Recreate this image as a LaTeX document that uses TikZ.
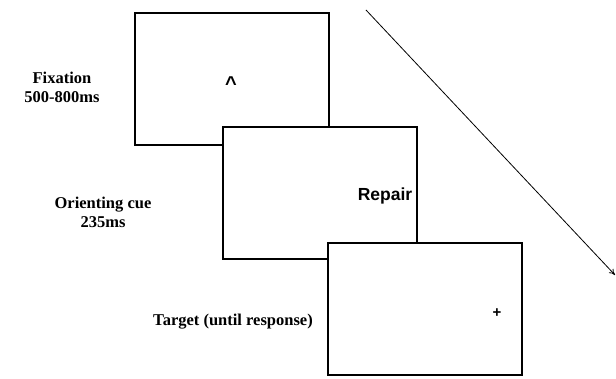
\documentclass[tikz,border=0pt]{standalone}
\usepackage{fontspec}
\setmainfont{Liberation Serif}
\setsansfont{Liberation Sans}
\usetikzlibrary{
    arrows.meta,
    positioning
}
\tikzset{
  screen/.style={
    draw=black,
    fill=white,
    line width=2pt,
    minimum width=194pt,
    minimum height=132pt,
    inner sep=0pt
  },
  phase/.style={
    font=\fontsize{16.5}{19}\selectfont\bfseries,
    align=center,
    inner sep=1pt
  },
  stim/.style={
    font=\fontsize{15}{17}\selectfont\sffamily\bfseries,
    inner sep=1pt
  }
}

\begin{document}
\begin{tikzpicture}[x=1pt,y=-1pt,>=Stealth]
    \useasboundingbox (0,0) rectangle (616,379);

    % 画面
    \node[screen,anchor=north west] (fix) at (134,12) {};
    \node[screen,anchor=north west] (cue) at (222,126) {};
    \node[screen,anchor=north west] (tgt) at (327,242) {};

    % 刺激
    \node[stim,font=\fontsize{20}{20}\selectfont\sffamily\bfseries] (caret) at (231,84) {\textasciicircum};
    \node[stim,font=\fontsize{17.5}{20}\selectfont\sffamily\bfseries] (word) at (385,196) {Repair};
    \node[stim] (plus) at (497,313) {+};

    % ラベル
    \node[phase] (fixlab) at (62,87) {Fixation\\500-800ms};
    \node[phase] (cuelab) at (103,212) {Orienting cue\\235ms};
    \node[phase] (tgtlab) at (233,322) {Target (until response)};

    % 時間の矢印
    \coordinate (tstart) at (366,10);
    \coordinate (tend) at (615,275);
    \draw[-{To[length=6pt,width=6pt]},line width=0.8pt] (tstart) -- (tend);
\end{tikzpicture}
\end{document}
